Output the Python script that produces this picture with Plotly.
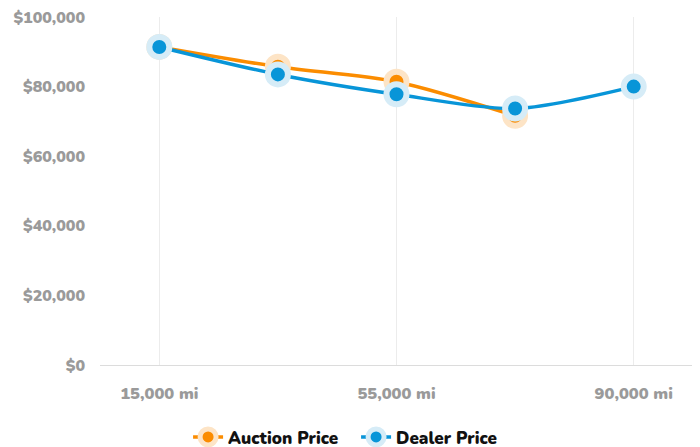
import plotly.graph_objects as go

categories = ["15,000 mi", "35,000 mi", "55,000 mi", "72,500 mi", "90,000 mi"]
tick_labels = ["15,000 mi", "55,000 mi", "90,000 mi"]
auction_price = [91400, 85700, 81400, 71600, None]
dealer_price = [91400, 83500, 77800, 73700, 80000]
y_ticks = [0, 20000, 40000, 60000, 80000, 100000]
y_tick_text = ["$0", "$20,000", "$40,000", "$60,000", "$80,000", "$100,000"]

ORANGE = "#FB8C00"
BLUE = "#0895D8"
FONT = "Nunito, Lato, sans-serif"

fig = go.Figure()
fig.add_trace(go.Scatter(
    x=categories, y=auction_price, name="Auction Price", mode="lines+markers",
    line=dict(color=ORANGE, width=3.5, shape="spline", smoothing=0.8),
    marker=dict(size=20, color=ORANGE, line=dict(width=6, color="#FDE4C6")),
    connectgaps=False,
))
fig.add_trace(go.Scatter(
    x=categories, y=dealer_price, name="Dealer Price", mode="lines+markers",
    line=dict(color=BLUE, width=3.5, shape="spline", smoothing=0.8),
    marker=dict(size=20, color=BLUE, line=dict(width=6, color="#D6ECF7")),
))

# page body adds an 8px offset, so the figure is sized to fit inside the window
fig.update_layout(
    width=692, height=439,
    margin=dict(l=92, r=7, t=9, b=82, autoexpand=False),
    paper_bgcolor="white", plot_bgcolor="white",
    font=dict(family=FONT, size=17, color="#9e9e9e"),
    showlegend=True,
    legend=dict(
        orientation="h", xref="container", yref="container",
        x=0.503, xanchor="center", y=0.022, yanchor="middle",
        font=dict(family=FONT, size=17, color="#111111", weight=900),
        itemwidth=30, entrywidth=123,
    ),
    xaxis=dict(
        type="category", range=[-0.5, 4.5], automargin=False,
        tickmode="array", tickvals=tick_labels, ticktext=tick_labels,
        showgrid=True, gridcolor="#ececec", gridwidth=1,
        showline=True, linecolor="#dcdcdc", linewidth=1,
        ticks="", ticklabelstandoff=13,
        tickfont=dict(family=FONT, size=16.5, color="#9a9a9a", weight=900),
        zeroline=False, fixedrange=True,
    ),
    yaxis=dict(
        range=[0, 100000], tickmode="array", tickvals=y_ticks, ticktext=y_tick_text,
        showgrid=False, zeroline=False, showline=False, ticks="", automargin=False,
        ticklabelstandoff=14, ticklabeloverflow="allow",
        tickfont=dict(family=FONT, size=16, color="#9a9a9a", weight=900),
        fixedrange=True,
    ),
)

fig.write_html("out.html")
